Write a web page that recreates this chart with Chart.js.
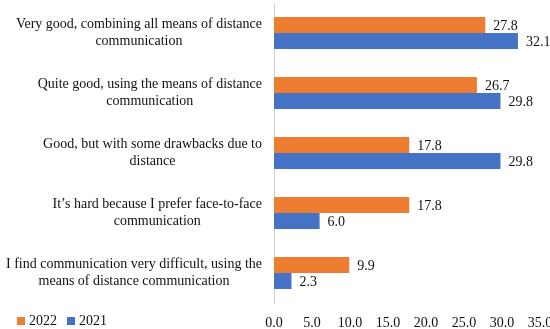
<!DOCTYPE html>
<html>
<head>
<meta charset="utf-8">
<script src="https://cdn.jsdelivr.net/npm/chart.js@4"></script>
<style>
  html, body { margin: 0; padding: 0; background: #fff; }
  #wrap { width: 550px; height: 329px; position: relative; }
</style>
</head>
<body>
<div id="wrap"><canvas id="chart"></canvas></div>
<script>
const categories = [
    ['Very good, combining all means of distance', 'communication'],
    ['Quite good, using the means of distance', 'communication'],
    ['Good, but with some drawbacks due to', 'distance'],
    ['It’s hard because I prefer face-to-face', 'communication'],
    ['I find communication very difficult, using the', 'means of distance communication']
];
const seriesNames = ['2022', '2021'];
const values2022 = [27.8, 26.7, 17.8, 17.8, 9.9];
const values2021 = [32.1, 29.8, 29.8, 6.0, 2.3];
const xTickMax = 35;
const xTickStep = 5;

const FONT = '"Liberation Serif", "DejaVu Serif", serif';
const FONT_SIZE = 14;
const TEXT_COLOR = '#111';

// ラベル描画（カテゴリ名を中央揃えで描く）
const categoryLabels = {
    id: 'categoryLabels',
    afterDraw(chart) {
        const y = chart.scales.y;
        const ctx = chart.ctx;
        ctx.save();
        ctx.font = `${FONT_SIZE}px ${FONT}`;
        ctx.fillStyle = TEXT_COLOR;
        ctx.textAlign = 'center';
        ctx.textBaseline = 'middle';
        categories.forEach((lines, i) => {
            const cy = y.getPixelForTick(i);
            const w = Math.max(...lines.map(l => ctx.measureText(l).width));
            const cx = y.right - 12 - w / 2;
            lines.forEach((l, j) => {
                ctx.fillText(l, cx, cy + (j - (lines.length - 1) / 2) * 17);
            });
        });
        ctx.restore();
    }
};

// バーの値ラベル
const valueLabels = {
    id: 'valueLabels',
    afterDatasetsDraw(chart) {
        const ctx = chart.ctx;
        ctx.save();
        ctx.font = `${FONT_SIZE}px ${FONT}`;
        ctx.fillStyle = TEXT_COLOR;
        ctx.textAlign = 'left';
        ctx.textBaseline = 'middle';
        chart.data.datasets.forEach((ds, di) => {
            chart.getDatasetMeta(di).data.forEach((bar, i) => {
                ctx.fillText(ds.data[i].toFixed(1), bar.x + 8, bar.y + 1);
            });
        });
        ctx.restore();
    }
};

// 凡例（左下）
const bottomLegend = {
    id: 'bottomLegend',
    afterDraw(chart) {
        const ctx = chart.ctx;
        ctx.save();
        ctx.font = `${FONT_SIZE}px ${FONT}`;
        ctx.textBaseline = 'middle';
        ctx.textAlign = 'left';
        let x = 17;
        const y = 321;
        chart.data.datasets.forEach(ds => {
            ctx.fillStyle = ds.backgroundColor;
            ctx.fillRect(x, y - 4, 8, 8);
            x += 12;
            ctx.fillStyle = TEXT_COLOR;
            ctx.fillText(ds.label, x, y);
            x += ctx.measureText(ds.label).width + 10;
        });
        ctx.restore();
    }
};

new Chart(document.getElementById('chart'), {
    type: 'bar',
    data: {
        labels: categories,
        datasets: [
            { label: seriesNames[0], data: values2022, backgroundColor: '#ED7D31' },
            { label: seriesNames[1], data: values2021, backgroundColor: '#4472C4' }
        ]
    },
    options: {
        indexAxis: 'y',
        responsive: true,
        maintainAspectRatio: false,
        animation: false,
        layout: { padding: { top: 3, right: 0, left: 0, bottom: 0 } },
        categoryPercentage: 0.533,
        barPercentage: 1.0,
        plugins: {
            legend: { display: false },
            tooltip: { enabled: false }
        },
        scales: {
            x: {
                min: 0,
                max: xTickMax,
                grid: { display: false },
                border: { display: false },
                ticks: {
                    stepSize: xTickStep,
                    color: TEXT_COLOR,
                    font: { family: FONT, size: FONT_SIZE },
                    padding: 4,
                    callback: v => v.toFixed(1)
                },
                afterFit: s => { s.height = 26; s.paddingRight = 10; }
            },
            y: {
                grid: { display: false },
                border: { display: true, color: '#d0d0d0', width: 1 },
                ticks: { display: false },
                afterFit: s => { s.width = 274; }
            }
        }
    },
    plugins: [categoryLabels, valueLabels, bottomLegend]
});
</script>
</body>
</html>
